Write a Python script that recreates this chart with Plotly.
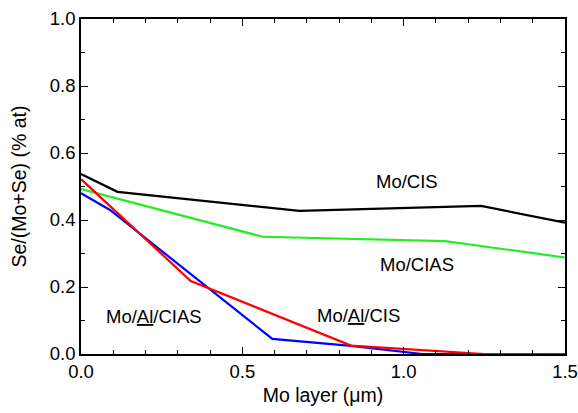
import plotly.graph_objects as go

# Data
cis_x = [0.0, 0.113, 0.677, 1.24, 1.5]
cis_y = [0.537, 0.484, 0.427, 0.442, 0.392]

cias_x = [0.0, 0.113, 0.563, 1.128, 1.5]
cias_y = [0.492, 0.464, 0.350, 0.337, 0.288]

alcias_x = [0.0, 0.09, 0.593, 0.837, 1.058, 1.5]
alcias_y = [0.480, 0.430, 0.045, 0.024, 0.0, 0.0]

alcis_x = [0.0, 0.34, 0.837, 1.25, 1.5]
alcis_y = [0.522, 0.218, 0.025, 0.0, 0.0]

labels = ["Mo/CIS", "Mo/CIAS", "Mo/<u>Al</u>/CIS", "Mo/<u>Al</u>/CIAS"]
label_x = [1.01, 1.04, 0.86, 0.225]
label_y = [0.514, 0.266, 0.116, 0.111]

FONT = "Liberation Sans, Arial, sans-serif"

fig = go.Figure()
fig.add_trace(go.Scatter(x=cis_x, y=cis_y, mode="lines", line=dict(color="black", width=2.2)))
fig.add_trace(go.Scatter(x=cias_x, y=cias_y, mode="lines", line=dict(color="#22ee22", width=2.2)))
fig.add_trace(go.Scatter(x=alcias_x, y=alcias_y, mode="lines", line=dict(color="#0000ff", width=2.2)))
fig.add_trace(go.Scatter(x=alcis_x, y=alcis_y, mode="lines", line=dict(color="#ff0000", width=2.2)))

for t, x, y in zip(labels, label_x, label_y):
    fig.add_annotation(x=x, y=y, text=t, showarrow=False,
                       font=dict(family=FONT, size=18.5, color="black"))

axis_common = dict(
    showgrid=False, zeroline=False, showline=True, linecolor="black", linewidth=1.5,
    mirror="ticks", ticks="inside", ticklen=7, tickwidth=1.2, tickcolor="black",
    tickfont=dict(family=FONT, size=18.5, color="black"), automargin=False,
)

fig.update_layout(
    width=578, height=413,
    margin=dict(l=81, r=13, t=19, b=59),
    paper_bgcolor="white", plot_bgcolor="white",
    showlegend=False,
    xaxis=dict(range=[0, 1.5], dtick=0.5, tick0=0, tickformat=".1f",
               minor=dict(dtick=0.1, ticks="inside", ticklen=4, tickcolor="black", tickwidth=1),
               title=dict(text="Mo layer (μm)", font=dict(family=FONT, size=19.5, color="black"), standoff=7),
               **axis_common),
    yaxis=dict(range=[0, 1.0], dtick=0.2, tick0=0, tickformat=".1f",
               minor=dict(dtick=0.1, ticks="inside", ticklen=4, tickcolor="black", tickwidth=1),
               title=dict(text="Se/(Mo+Se) (% at)", font=dict(family=FONT, size=19.5, color="black"), standoff=18),
               **axis_common),
)

fig.write_html("out.html")
